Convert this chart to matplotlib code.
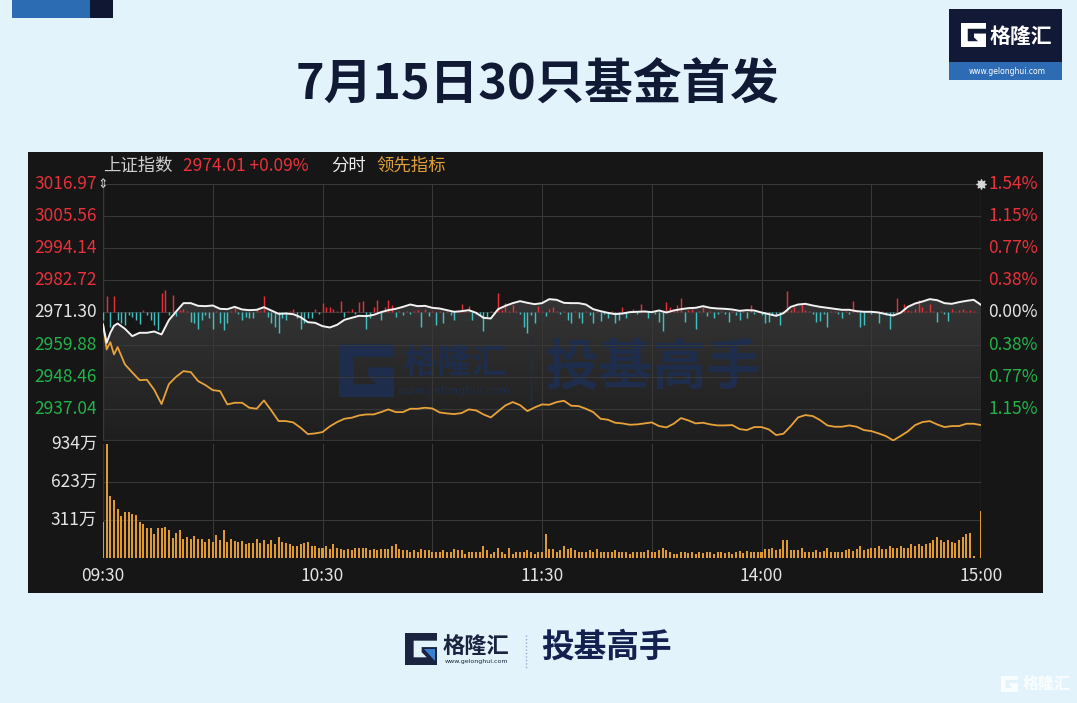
import numpy as np
import matplotlib
matplotlib.use('Agg')
import matplotlib.pyplot as plt
from matplotlib.patches import Rectangle, Polygon
from matplotlib.colors import LinearSegmentedColormap
from matplotlib.transforms import blended_transform_factory, Affine2D

plt.rcParams['font.family'] = ['Noto Sans CJK SC', 'DejaVu Sans']

# ---------------- data ----------------
title = "7月15日30只基金首发"
index_name = "上证指数"
last_text = "2974.01 +0.09%"
prev_close = 2971.30

price_ticks = [3016.97, 3005.56, 2994.14, 2982.72, 2971.30, 2959.88, 2948.46, 2937.04]
pct_labels = ["1.54%", "1.15%", "0.77%", "0.38%", "0.00%", "0.38%", "0.77%", "1.15%"]
price_low = 2925.62
vol_ticks = [934, 623, 311]
time_labels = ["09:30", "10:30", "11:30", "14:00", "15:00"]
time_pos = [0, 60, 120, 180, 240]

line_minutes = [0, 1, 2, 3] + list(range(4, 241, 2))
index_line = [
    2966.90, 2960.53, 2964.08, 2966.56,
    2967.39, 2965.50, 2962.89, 2964.08, 2964.08, 2964.55, 2963.49, 2968.58,
    2971.66, 2974.62, 2974.62, 2973.67, 2973.55, 2973.79, 2972.60, 2972.48, 2973.31, 2972.37,
    2972.13, 2972.25, 2973.19, 2972.01, 2970.83, 2970.94, 2970.71, 2969.64, 2967.87, 2967.63,
    2966.45, 2965.97, 2966.92, 2968.70, 2969.41, 2970.12, 2970.00, 2970.47, 2971.42, 2972.13,
    2972.60, 2973.31, 2974.14, 2973.55, 2973.67, 2972.96, 2972.72, 2972.13, 2971.54, 2971.77,
    2972.13, 2971.18, 2969.41, 2969.17, 2972.48, 2973.67, 2974.62, 2975.33, 2974.73, 2974.26,
    2974.62, 2976.04, 2975.80, 2974.73, 2974.62, 2974.62, 2974.14, 2972.48, 2971.77, 2971.18,
    2970.71, 2970.94, 2971.42, 2971.54, 2971.66, 2971.42, 2972.01, 2971.30, 2972.01, 2972.48,
    2972.84, 2972.96, 2973.55, 2972.96, 2972.72, 2972.60, 2972.37, 2971.89, 2972.13, 2972.01,
    2971.30, 2970.71, 2970.12, 2971.06, 2973.31, 2974.14, 2974.38, 2973.79, 2973.31, 2972.96,
    2972.60, 2972.25, 2972.25, 2971.77, 2971.54, 2971.54, 2971.30, 2970.71, 2970.23, 2971.18,
    2973.31, 2974.50, 2975.21, 2976.04, 2975.68, 2974.62, 2974.38, 2974.97, 2975.44, 2975.80,
    2974.01]
lead_line = [
    2967.30, 2958.16, 2960.76, 2956.38,
    2958.99, 2952.83, 2949.99, 2947.26, 2947.38, 2943.83, 2938.74, 2945.84,
    2948.45, 2950.46, 2950.11, 2946.91, 2945.49, 2943.71, 2943.36, 2938.62, 2939.21, 2939.21,
    2937.44, 2937.08, 2940.04, 2936.49, 2932.70, 2932.70, 2932.23, 2930.33, 2928.08, 2928.32,
    2928.79, 2930.81, 2932.35, 2933.53, 2933.89, 2934.71, 2935.07, 2935.07, 2935.90, 2936.85,
    2935.90, 2935.90, 2937.08, 2937.08, 2937.44, 2937.20, 2935.78, 2935.42, 2935.19, 2935.54,
    2936.85, 2936.49, 2935.07, 2934.00, 2936.14, 2938.27, 2939.45, 2938.38, 2936.25, 2937.56,
    2938.62, 2938.50, 2939.45, 2939.92, 2938.15, 2938.03, 2937.08, 2935.90, 2933.53, 2933.18,
    2932.11, 2931.87, 2931.40, 2931.52, 2931.87, 2932.23, 2930.93, 2930.45, 2931.75, 2933.77,
    2932.94, 2931.87, 2932.11, 2931.52, 2931.16, 2931.16, 2931.28, 2929.86, 2929.50, 2930.57,
    2930.57, 2929.74, 2927.73, 2928.20, 2930.93, 2934.00, 2934.83, 2934.48, 2933.06, 2931.16,
    2930.69, 2930.69, 2931.16, 2930.69, 2929.50, 2929.15, 2928.32, 2927.37, 2925.83, 2927.37,
    2929.03, 2931.28, 2932.35, 2932.70, 2931.52, 2930.57, 2930.93, 2930.93, 2931.75, 2931.75,
    2931.28]

minutes = list(range(241))
lead_bars = [
    -2.5, 5.8, -5.1, 5.8, -2.5, -3.9, -4.5, -0.9, -1.5, -2.5,
    -4.1, 0.8, -0.9, -2.5, -4.5, -6.3, 7.0, 8.1, -0.9, 6.2,
    -1.3, 0.8, 1.4, 0.5, -3.3, -3.9, -6.0, -2.7, -0.9, -1.8,
    -6.0, 0.6, -3.9, -6.3, -3.9, 0.5, 2.0, -0.6, -2.7, -1.5,
    -2.1, -1.8, 1.4, 0.6, 5.8, -1.5, -3.9, -5.1, -7.2, -2.1,
    -2.5, 0.5, 1.4, -2.1, -5.7, -3.7, -2.1, -1.8, 1.4, -0.6,
    3.4, 1.8, 2.0, 1.1, 0.6, 4.1, -1.5, 0.5, 1.1, -0.6,
    3.8, 4.1, -5.7, -2.1, 2.0, 4.6, -2.5, 2.0, 4.6, 2.6,
    -1.5, 0.6, -0.9, 0.5, -0.7, 0.6, 0.8, -5.1, 1.4, -1.3,
    0.6, -4.5, 0.5, -3.9, 0.6, -0.8, -2.7, 0.7, 3.0, 0.6,
    2.2, -2.5, -0.6, -0.9, -6.6, -1.5, 0.5, -0.6, 6.8, 0.8,
    3.4, 0.6, 2.6, 0.5, -0.7, -5.1, -7.2, -0.8, -3.9, 2.2,
    0.6, -1.3, 1.1, 1.8, 0.6, -0.6, 0.5, -2.7, -3.9, 0.5,
    -1.8, -3.7, 0.6, -0.8, -3.9, 0.5, -3.0, -0.6, -2.1, 0.5,
    -3.9, -2.7, 2.0, -1.8, 0.5, 1.1, -0.6, 3.0, 0.6, -1.8,
    0.5, -0.7, -3.3, -6.6, 3.8, 2.0, 0.6, 2.6, 5.0, -3.3,
    0.8, 1.4, -5.7, 0.6, 2.0, -1.3, 0.5, -1.8, -0.6, 0.6,
    -0.7, -3.3, 0.5, -0.8, -2.5, 0.6, -1.8, 2.6, -0.6, 0.5,
    -0.8, -3.9, -3.3, -0.9, -1.2, -4.5, 0.6, 7.7, 0.8, 1.8,
    0.6, 3.0, 0.9, 0.6, -0.6, -3.3, -3.0, -0.7, -5.3, 0.5,
    0.6, -0.6, -1.8, 0.6, -0.5, 4.1, 0.6, -5.1, -4.5, 0.5,
    -0.6, 0.5, -3.9, 0.6, -0.8, -5.7, -1.0, 5.0, 0.6, 3.0,
    0.8, 0.6, 1.2, 4.6, 2.0, 0.6, 3.0, 0.7, -3.3, 0.5,
    -0.6, -3.0, 1.4, 0.6, 0.8, 1.4, 0.7, 0.8, 0.5, 0.0,
    0.0]
volume = [
    292, 934, 509, 475, 403, 342, 378, 378, 364, 350,
    292, 281, 242, 242, 195, 242, 242, 253, 231, 161,
    203, 231, 158, 170, 158, 181, 158, 158, 133, 158,
    133, 192, 147, 231, 133, 158, 142, 133, 142, 111,
    120, 120, 158, 120, 147, 111, 147, 111, 170, 133,
    120, 111, 97, 97, 111, 120, 133, 97, 97, 78,
    86, 97, 72, 111, 78, 72, 64, 72, 64, 78,
    86, 78, 86, 64, 72, 64, 70, 75, 70, 97,
    111, 75, 64, 64, 47, 64, 47, 75, 64, 64,
    50, 50, 50, 64, 47, 47, 75, 64, 64, 36,
    47, 47, 47, 47, 97, 64, 36, 47, 86, 47,
    36, 86, 36, 47, 47, 47, 64, 47, 36, 47,
    47, 195, 75, 75, 47, 64, 97, 75, 86, 64,
    47, 47, 47, 64, 47, 75, 47, 47, 47, 47,
    64, 47, 47, 47, 36, 47, 47, 47, 47, 64,
    47, 47, 64, 86, 64, 47, 36, 36, 47, 47,
    40, 50, 36, 47, 40, 50, 47, 36, 50, 47,
    40, 50, 36, 47, 56, 40, 56, 47, 47, 50,
    47, 72, 72, 86, 64, 75, 147, 147, 64, 64,
    64, 86, 47, 47, 50, 64, 47, 56, 86, 47,
    47, 47, 50, 64, 72, 56, 72, 97, 64, 75,
    86, 86, 97, 75, 75, 97, 86, 86, 97, 86,
    86, 111, 97, 111, 97, 111, 120, 147, 170, 147,
    133, 147, 133, 120, 147, 170, 195, 208, 14, 0,
    384]

# ---------------- figure ----------------
W, H = 1077, 703
fig = plt.figure(figsize=(W / 100, H / 100), dpi=100)
BG = '#e3f3fc'
fig.patch.set_facecolor(BG)


def fx(px):
    return px / W


def fy(py):
    return 1 - py / H


PIX = Affine2D().scale(1 / W, -1 / H).translate(0, 1) + fig.transFigure

G_SHAPE = [(0, 0), (1, 0), (1, 0.24), (0.27, 0.24), (0.27, 0.76), (0.68, 0.76),
           (0.52, 0.60), (0.52, 0.44), (1, 0.44), (1, 1), (0, 1)]
G_ACCENT = [(0.60, 0.50), (0.94, 0.50), (0.94, 0.86)]


def g_logo(target, x0, y0, w, h, color, accent=None, alpha=1.0, zorder=3):
    pts = [(x0 + a * w, y0 + b * h) for a, b in G_SHAPE]
    target.add_patch(Polygon(pts, closed=True, fc=color, ec='none', alpha=alpha,
                             transform=PIX, zorder=zorder))
    if accent is not None:
        pts2 = [(x0 + a * w, y0 + b * h) for a, b in G_ACCENT]
        target.add_patch(Polygon(pts2, closed=True, fc=accent, ec='none', alpha=alpha,
                                 transform=PIX, zorder=zorder + 0.1))


deco = fig.add_axes([0, 0, 1, 1])
deco.set_xlim(0, W)
deco.set_ylim(H, 0)
deco.axis('off')

# top-left bars
deco.add_patch(Rectangle((12, 0), 78, 18, color='#2b6cb3', lw=0))
deco.add_patch(Rectangle((90, 0), 23, 18, color='#0f1733', lw=0))

# top-right logo
deco.add_patch(Rectangle((949, 9), 113, 53, color='#121936', lw=0))
deco.add_patch(Rectangle((949, 62), 113, 18, color='#2d6cb4', lw=0))
g_logo(deco, 961, 23, 25, 24, 'white')
deco.text(1021, 36, '格隆汇', color='white', fontsize=15, fontweight='bold',
          ha='center', va='center')
deco.text(1007, 71, 'www.gelonghui.com', color='white', fontsize=5.5,
          ha='center', va='center', family='DejaVu Sans')

# title
deco.text(538, 85, title, color='#101a35', fontsize=35, fontweight='bold',
          ha='center', va='center')

# chart panel
PANEL = '#161616'
deco.add_patch(Rectangle((28, 152), 1015, 441, color=PANEL, lw=0))

# bottom logo
g_logo(deco, 405, 633, 32, 32, '#1a2340', accent='#3a7fd0')
deco.text(476, 646, '格隆汇', color='#1a2340', fontsize=16, fontweight='bold',
          ha='center', va='center')
deco.text(476, 662, 'www.gelonghui.com', color='#1a2340', fontsize=4.5,
          ha='center', va='center', family='DejaVu Sans')
deco.plot([526, 526], [635, 668], color='#9aa8d0', lw=1, ls=(0, (1, 1.5)))
deco.text(606, 647, '投基高手', color='#142050', fontsize=23.5, fontweight='bold',
          ha='center', va='center')

# bottom-right watermark
g_logo(deco, 1001, 676, 17, 16, 'white', alpha=0.85)
deco.text(1047, 684, '格隆汇', color='white', fontsize=11.5, fontweight='bold',
          ha='center', va='center', alpha=0.85)

# ---------------- price axes ----------------
L, R = 103, 981
ax = fig.add_axes([fx(L), fy(441), fx(R) - fx(L), fy(184) - fy(441)])
ax.set_facecolor(PANEL)
for s in ax.spines.values():
    s.set_visible(False)
ax.set_xticks([])
ax.set_yticks([])

# gradient fill under index line
verts = [(line_minutes[0], price_low)] + list(zip(line_minutes, index_line)) + [(line_minutes[-1], price_low)]
poly = Polygon(verts, closed=True, transform=ax.transData, fc='none', ec='none')
ax.add_patch(poly)
cmap = LinearSegmentedColormap.from_list('g', ['#1e1e1e', '#353535'])
grad = np.linspace(0, 1, 256).reshape(-1, 1)
im = ax.imshow(grad, extent=[0, 240, price_low, 2977], origin='lower', aspect='auto',
               cmap=cmap, zorder=1)
im.set_clip_path(poly)
ax.set_xlim(0, 240)
ax.set_ylim(price_low, price_ticks[0])

# watermark
WM = '#1d2d4b'
g_logo(ax, 339, 344, 55, 53, WM, zorder=1.5)
ax.text(fx(454), fy(362), '格隆汇', transform=fig.transFigure, color=WM, fontsize=25,
        fontweight='bold', ha='center', va='center', zorder=1.5)
ax.text(fx(454), fy(391), 'www.gelonghui.com', transform=fig.transFigure, color=WM,
        fontsize=8, ha='center', va='center', family='DejaVu Sans', zorder=1.5)
ax.plot([fx(531), fx(531)], [fy(338), fy(405)], transform=fig.transFigure, color=WM,
        lw=1, zorder=1.5)
ax.text(fx(653), fy(369), '投基高手', transform=fig.transFigure, color=WM, fontsize=39,
        fontweight='bold', ha='center', va='center', zorder=1.5)

GRID = '#383838'
for t in price_ticks:
    ax.axhline(t, color=GRID, lw=0.8, zorder=2)
for m in range(30, 240, 30):
    ax.axvline(m, color=GRID, lw=0.8, zorder=2)
ax.axvline(0, color=GRID, lw=1.0, zorder=2)
ax.axvline(240, color=GRID, lw=1.0, zorder=2)
ax.axhline(price_low, color='#333333', lw=1.6, zorder=2)

# lead indicator bars
bar_colors = ['#e5303a' if v >= 0 else '#3fbfc0' for v in lead_bars]
ax.vlines(minutes, prev_close, [prev_close + v for v in lead_bars], colors=bar_colors,
          lw=1.05, zorder=3)

ax.plot(line_minutes, lead_line, color='#e8a23a', lw=1.3, zorder=4)
ax.plot(line_minutes, index_line, color='#f2f2f2', lw=1.4, zorder=5)

# ---------------- volume axes ----------------
ax2 = fig.add_axes([fx(L), fy(558), fx(R) - fx(L), fy(444) - fy(558)])
ax2.set_facecolor('none')
ax2.set_xlim(0, 240)
ax2.set_ylim(0, vol_ticks[0])
for s in ax2.spines.values():
    s.set_visible(False)
ax2.set_xticks([])
ax2.set_yticks([])
for t in vol_ticks[1:]:
    ax2.axhline(t, color=GRID, lw=0.8, zorder=1)
for m in range(30, 240, 30):
    ax2.axvline(m, color=GRID, lw=0.8, zorder=1)
ax2.axvline(0, color=GRID, lw=1.0, zorder=1)
ax2.axvline(240, color=GRID, lw=1.0, zorder=1)
ax2.bar(minutes, volume, width=0.55, color='#e09a35', lw=0, zorder=3)

# ---------------- labels ----------------
RED, GREEN, WHITE = '#e8313a', '#21b34a', '#e4e4e4'
FS = 12.5
trl = blended_transform_factory(fig.transFigure, ax.transData)
for i, t in enumerate(price_ticks):
    col = RED if t > prev_close else (WHITE if t == prev_close else GREEN)
    ax.text(fx(97), t, f"{t:.2f}", transform=trl, color=col, fontsize=FS,
            ha='right', va='center', clip_on=False)
    ax.text(fx(988), t, pct_labels[i], transform=trl, color=col, fontsize=FS,
            ha='left', va='center', clip_on=False)

trv = blended_transform_factory(fig.transFigure, ax2.transData)
for v in vol_ticks:
    ax2.text(fx(97), v, f"{v}万", transform=trv, color=WHITE, fontsize=FS,
             ha='right', va='center', clip_on=False)

trt = blended_transform_factory(ax2.transData, fig.transFigure)
for p, lab in zip(time_pos, time_labels):
    ax2.text(p, fy(576), lab, transform=trt, color=WHITE, fontsize=FS,
             ha='center', va='center', clip_on=False)

# header row
deco.text(103, 166, index_name, color='#cfcfcf', fontsize=FS, ha='left', va='center')
deco.text(183, 166, last_text, color=RED, fontsize=FS, ha='left', va='center')
deco.text(331, 166, '分时', color='#ececec', fontsize=FS, ha='left', va='center')
deco.text(376, 166, '领先指标', color='#e0a03a', fontsize=FS, ha='left', va='center')

# small icons
ax.text(fx(103), price_ticks[0], '⇕', transform=trl, color='#d0d0d0', fontsize=9,
        ha='center', va='center', family='DejaVu Sans', zorder=6, clip_on=False)
ax.scatter([240], [price_ticks[0]], marker=(8, 1, 0), s=45, color='#d8d8d8',
           zorder=6, clip_on=False)

fig.savefig('out.png', dpi=100, facecolor=BG)
